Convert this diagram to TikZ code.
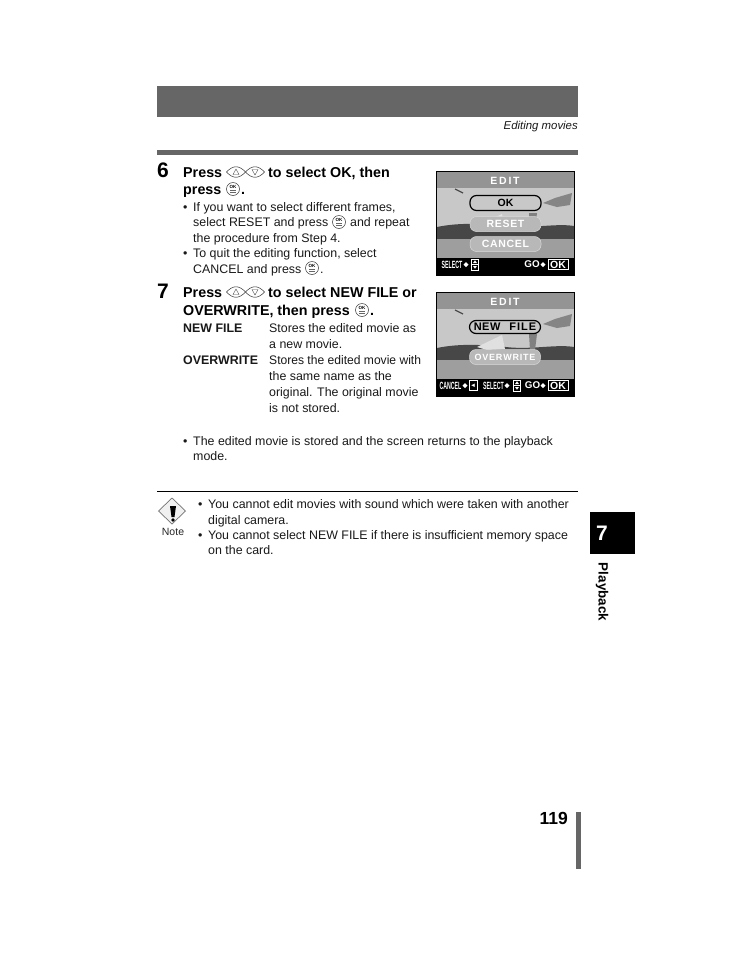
\documentclass[tikz,border=0pt]{standalone}
\usepackage{fontspec}
\setmainfont{Liberation Sans}
\usepackage{xcolor}
\definecolor{band}{HTML}{666666}
\definecolor{skygray}{HTML}{C8C8C8}
\definecolor{pillgray}{HTML}{B8B8B8}
\tikzset{
  body/.style={anchor=base west,inner sep=0pt,font=\fontsize{12.4}{14}\selectfont,text=black!90},
  head/.style={anchor=base west,inner sep=0pt,font=\fontsize{14.3}{16}\selectfont\bfseries},
  stepnum/.style={anchor=base west,inner sep=0pt,font=\fontsize{21}{22}\selectfont\bfseries},
  pill/.style={draw=white!85!black,line width=0.5pt,fill=pillgray,rounded corners=6.5pt,minimum width=71pt,minimum height=15pt,inner sep=0pt,text=white,font=\fontsize{10.5}{11}\selectfont\bfseries},
  pillon/.style={pill,draw=black,line width=1.2pt,fill=skygray,text=black},
  bartext/.style={inner sep=0pt,text=white,font=\fontsize{10.5}{11}\selectfont\bfseries},
  gotext/.style={bartext,font=\fontsize{9.8}{11}\selectfont\bfseries},
  okpic/.pic={
    \draw [black!80,fill=white,line width=0.5pt] (0,0) circle (6.5);
    \draw [black!60,line width=0.4pt] (-3,1.5) -- (3,1.5) (-3,3) -- (3,3);
    \node (oklabel) at (0,-2.3) [inner sep=0pt,font=\fontsize{4.5}{5}\selectfont\bfseries] {OK};
  },
  lens/.pic={
    \draw [black!80,fill=white,line width=0.5pt] (-9.5,0) .. controls (-3,-7) and (3,-7) .. (9.5,0) .. controls (3,7) and (-3,7) .. (-9.5,0) -- cycle;
    \draw [black!70,line width=0.4pt] (-3,2.5) -- (3,2.5) -- (0,-3) -- cycle;
  },
  lensdown/.pic={
    \draw [black!80,fill=white,line width=0.5pt] (-9.5,0) .. controls (-3,-7) and (3,-7) .. (9.5,0) .. controls (3,7) and (-3,7) .. (-9.5,0) -- cycle;
    \draw [black!70,line width=0.4pt] (-3,-2.5) -- (3,-2.5) -- (0,3) -- cycle;
  },
  barmark/.pic={
    \fill [white] (-2.5,0) -- (0,-2.5) -- (2.5,0) -- (0,2.5) -- cycle;
  },
  udbox/.pic={
    \draw [white,line width=0.6pt] (-3.5,-5.5) rectangle (3.5,5.5);
    \draw [white,line width=0.5pt] (-3.5,0) -- (3.5,0);
    \fill [white] (-2,-1.5) -- (2,-1.5) -- (0,-4.2) -- cycle;
    \fill [white] (-2,1.5) -- (2,1.5) -- (0,4.2) -- cycle;
  },
  photo/.pic={
    \fill [black] (0,0) rectangle (139,105);
    \fill [skygray] (1,1) rectangle (138,87);
    \fill [black!72] (1,56) .. controls (25,51) and (50,53) .. (70,55) .. controls (95,58) and (120,52) .. (138,55) -- (138,68) -- (1,68) -- cycle;
    \fill [black!38] (1,68) rectangle (138,87);
    \fill [black!48] (107,32) -- (119,27) -- (136,22) -- (134,34) -- (121,36) -- cycle;
    \fill [black!50] (93,42) -- (101,42) -- (99,58) -- (94,58) -- cycle;
    \fill [black!12] (41,55) -- (66,43) -- (69,57) -- (51,58) -- cycle;
    \draw [black!70,line width=1.2pt] (19,18) -- (27,22);
    \fill [black!42] (1,1) rectangle (138,17);
    \fill [black] (1,87) rectangle (138,104);
  }
}
\begin{document}
\begin{tikzpicture}[x=1pt,y=-1pt]
\useasboundingbox (0,0) rectangle (736,954);
\fill [white] (0,0) rectangle (736,954);
% page furniture
\fill [band] (157,86) rectangle (578,117);
\fill [band] (157,150) rectangle (578,155);
\node (section) at (578,129) [body,anchor=base east,font=\fontsize{11.4}{13}\selectfont\itshape] {Editing movies};
\draw [black,line width=0.7pt] (157,491) -- (578,491);
\fill [black] (590,512) rectangle (635,554);
\node (tabnum) at (596,540) [stepnum,text=white] {7};
\node (tabname) at (602,592) [inner sep=0pt,rotate=-90,font=\fontsize{13.4}{15}\selectfont\bfseries] {Playback};
\node (pagenum) at (568,824) [stepnum,anchor=base east,font=\fontsize{17.5}{18}\selectfont\bfseries] {119};
\fill [band] (576,812) rectangle (581,869);
% step 6
\node (six) at (157,177) [stepnum] {6};
\node (sixa) at (183,177) [head] {Press};
\pic at (236,172) {lens};
\pic at (255,172) {lensdown};
\node (sixb) at (268,177) [head] {to select OK, then};
\node (sixc) at (183,194) [head] {press};
\pic at (233,189) {okpic};
\node (sixd) at (241,194) [head] {.};
\node (bulla) at (183,211) [body] {•};
\node (lineone) at (193,211) [body] {If you want to select different frames,};
\node (linetwo) at (193,226) [body] {select RESET and press};
\pic at (339,222) {okpic};
\node (linetwob) at (350,226) [body] {and repeat};
\node (linethree) at (193,242) [body] {the procedure from Step 4.};
\node (bullb) at (183,257) [body] {•};
\node (linefour) at (193,257) [body] {To quit the editing function, select};
\node (linefive) at (193,273) [body] {CANCEL and press};
\pic at (312,268) {okpic};
\node (linefiveb) at (320,273) [body] {.};
% step 7
\node (seven) at (157,298) [stepnum] {7};
\node (sevena) at (183,297) [head] {Press};
\pic at (236,292) {lens};
\pic at (255,292) {lensdown};
\node (sevenb) at (268,297) [head] {to select NEW FILE or};
\node (sevenc) at (183,315) [head] {OVERWRITE, then press};
\pic at (362,310) {okpic};
\node (sevend) at (370,315) [head] {.};
\node (newfile) at (183,332) [body,font=\fontsize{12.4}{14}\selectfont\bfseries] {NEW FILE};
\node (newa) at (269,332) [body] {Stores the edited movie as};
\node (newb) at (269,348) [body] {a new movie.};
\node (overwrite) at (183,364) [body,font=\fontsize{12.4}{14}\selectfont\bfseries] {OVERWRITE};
\node (ova) at (269,364) [body,xscale=0.975,transform shape] {Stores the edited movie with};
\node (ovb) at (269,380) [body] {the same name as the};
\node (ovc) at (269,396) [body] {original. The original movie};
\node (ovd) at (269,412) [body] {is not stored.};
\node (bullc) at (183,445) [body] {•};
\node (storeda) at (193,445) [body] {The edited movie is stored and the screen returns to the playback};
\node (storedb) at (193,460) [body] {mode.};
% first screen
\pic at (436,171) {photo};
\node (edita) at (505,181) [bartext] {E\,D\,I\,T};
\node (okpill) at (505.5,203) [pillon] {OK};
\node (resetpill) at (505.5,224) [pill] {R\kern0.7pt E\kern0.7pt S\kern0.7pt E\kern0.7pt T};
\node (cancelpill) at (505.5,244) [pill] {C\kern0.7pt A\kern0.7pt N\kern0.7pt C\kern0.7pt E\kern0.7pt L};
\node (selecta) at (452,264.5) [bartext,xscale=0.5,transform shape] {SELECT};
\pic at (466,264.5) {barmark};
\pic at (475,264.5) {udbox};
\node (goa) at (532,264.5) [gotext] {GO};
\pic at (543,264.5) {barmark};
\node (oka) at (558,264.5) [bartext,draw=white,line width=0.7pt,inner xsep=2pt,inner ysep=1pt] {OK};
% second screen
\pic at (436,292) {photo};
\node (editb) at (505,302) [bartext] {E\,D\,I\,T};
\node (newpill) at (505,327) [pillon,minimum height=13pt,font=\fontsize{11}{12}\selectfont\bfseries] {N\kern0.5pt E\kern0.5pt W\kern9pt F\kern1pt I\kern1pt L\kern1pt E};
\node (overpill) at (505,357) [pill,font=\fontsize{9}{10}\selectfont\bfseries] {O\kern0.8pt V\kern0.8pt E\kern0.8pt R\kern0.8pt W\kern0.8pt R\kern0.8pt I\kern0.8pt T\kern0.8pt E};
\node (cancelb) at (450.5,385.5) [bartext,xscale=0.5,transform shape] {CANCEL};
\pic at (465,385.5) {barmark};
\node (backb) at (473,385.5) [bartext,draw=white,line width=0.6pt,minimum width=8pt,minimum height=10pt,font=\fontsize{6}{6}\selectfont] {◄};
\node (selectb) at (493.5,385.5) [bartext,xscale=0.5,transform shape] {SELECT};
\pic at (507,385.5) {barmark};
\pic at (517,385.5) {udbox};
\node (gob) at (532.5,385.5) [gotext] {GO};
\pic at (543,385.5) {barmark};
\node (okb) at (558,385.5) [bartext,draw=white,line width=0.7pt,inner xsep=2pt,inner ysep=1pt] {OK};
% note
\draw [black!55,fill=black!6,line width=0.7pt] (172,498) -- (185.5,511) -- (172,524) -- (158.5,511) -- cycle;
\fill [black] (170,506) -- (176,506) -- (174.5,517) -- (171.5,517) -- cycle;
\fill [black] (173,520) circle (1.8);
\node (notelabel) at (173,531.5) [inner sep=0pt,font=\fontsize{10.5}{12}\selectfont,text=black!85] {Note};
\node (bulld) at (198,508) [body] {•};
\node (notea) at (208,508) [body] {You cannot edit movies with sound which were taken with another};
\node (noteb) at (208,524) [body] {digital camera.};
\node (bulle) at (198,539) [body] {•};
\node (notec) at (208,539) [body] {You cannot select NEW FILE if there is insufficient memory space};
\node (noted) at (208,554) [body] {on the card.};
\end{tikzpicture}
\end{document}
